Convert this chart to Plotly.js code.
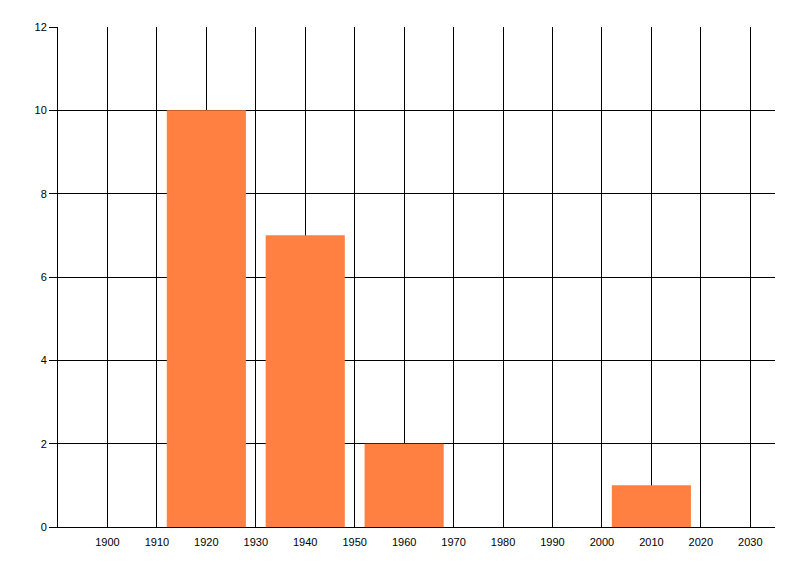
<!DOCTYPE html>
<html>
<head>
<meta charset="utf-8">
<script src="https://cdn.plot.ly/plotly-3.0.1.min.js"></script>
<style>html,body{margin:0;padding:0;background:#fff;}#chart{width:800px;height:576px;}</style>
</head>
<body>
<div id="chart"></div>
<script>
var years = [1920, 1940, 1960, 2010];
var counts = [10, 7, 2, 1];
var xTicks = [1900, 1910, 1920, 1930, 1940, 1950, 1960, 1970, 1980, 1990, 2000, 2010, 2020, 2030];
var yTicks = [0, 2, 4, 6, 8, 10, 12];

var trace = {
  type: 'bar',
  x: years,
  y: counts,
  width: 16,
  marker: {color: '#FF8040', line: {width: 0}},
  hoverinfo: 'x+y'
};

var layout = {
  width: 800, height: 576,
  margin: {l: 58, r: 25, t: 27, b: 49},
  paper_bgcolor: '#fff', plot_bgcolor: '#fff',
  showlegend: false,
  font: {family: 'Liberation Sans, Arial, sans-serif', size: 11, color: '#000'},
  xaxis: {
    range: [1890, 2035],
    tickvals: xTicks,
    ticktext: xTicks.map(String),
    showgrid: true, gridcolor: '#000', gridwidth: 1,
    showline: true, linecolor: '#000', linewidth: 1,
    zeroline: false,
    ticks: '', ticklabelstandoff: 5,
    tickfont: {size: 11, color: '#000'}
  },
  yaxis: {
    range: [0, 12],
    tickvals: yTicks,
    showgrid: true, gridcolor: '#000', gridwidth: 1,
    showline: true, linecolor: '#000', linewidth: 1,
    zeroline: false,
    ticks: 'outside', ticklen: 8, tickcolor: '#000', tickwidth: 1,
    tickfont: {size: 11, color: '#000'}
  }
};

Plotly.newPlot('chart', [trace], layout, {staticPlot: true, displayModeBar: false});
</script>
</body>
</html>
